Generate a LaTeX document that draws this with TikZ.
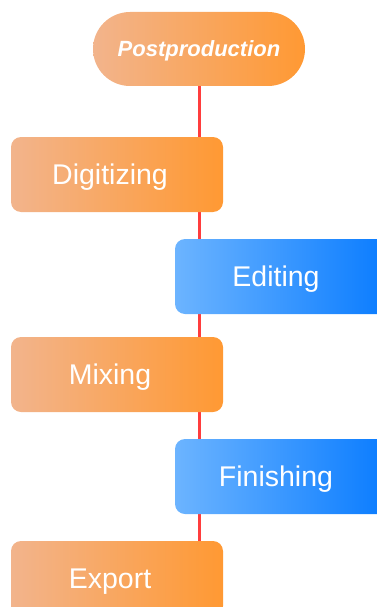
\documentclass[tikz,border=0pt]{standalone}
\usepackage{fontspec}
\setmainfont{Liberation Sans}
\usetikzlibrary{backgrounds}
\definecolor{orangeL}{HTML}{F2B48C}
\definecolor{orangeR}{HTML}{FF9933}
\definecolor{blueL}{HTML}{6CB4FF}
\definecolor{blueR}{HTML}{0A7CFF}
\definecolor{linkred}{HTML}{FF3D3D}
\tikzset{stage/.style = {rectangle, rounded corners = 10pt, minimum width = 212pt,
                         minimum height = 75pt, text = white, inner sep = 0,
                         text height = 20pt, text depth = 0pt,
                         font = \fontsize{28.5}{30}\selectfont}}
\tikzset{warm/.style = {stage, left color = orangeL, right color = orangeR,
                        execute at begin node = \hspace{-14pt}}}
\tikzset{cool/.style = {stage, left color = blueL, right color = blueR,
                        execute at begin node = \hspace{-10pt}}}
\tikzset{title/.style = {stage, left color = orangeL, right color = orangeR,
                         rounded corners = 37pt, minimum height = 74pt,
                         text height = 16pt,
                         font = \fontsize{22}{24}\selectfont\bfseries\itshape}}
\tikzset{link/.style = {draw = linkred, line width = 3pt}}

\begin{document}
\begin{tikzpicture}[x=1pt, y=-1pt]
    \useasboundingbox (0, 0) rectangle (376, 607);
    \node [title] (post) at (199, 49) {Postproduction};
    \node [warm] (digit) at (117, 174.5) {Digitizing};
    \node [cool] (edit) at (281, 276.5) {Editing};
    \node [warm] (mix) at (117, 374.5) {Mixing};
    \node [cool] (finish) at (281, 476.5) {Finishing};
    \node [warm] (export) at (117, 578.5) {Export};
    \coordinate (end) at (199, 607);
    \begin{scope}[on background layer]
      \draw [link] (post.south) -- (end);
    \end{scope}
  \end{tikzpicture}
\end{document}
